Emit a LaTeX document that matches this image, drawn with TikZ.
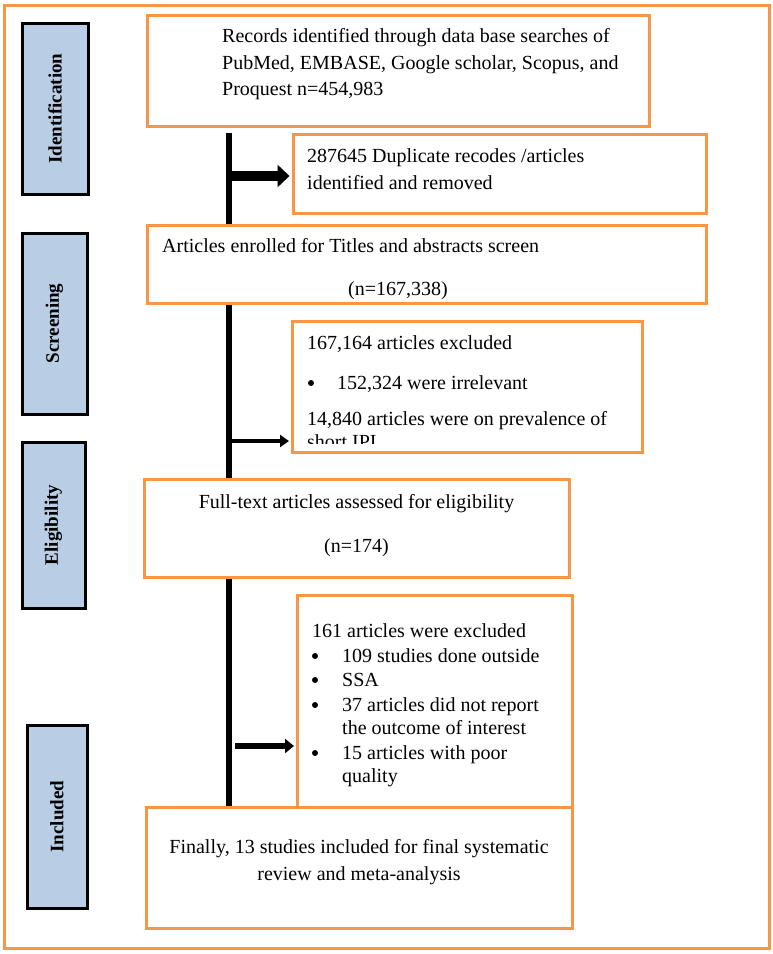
\documentclass[tikz,border=0pt]{standalone}
\usepackage{fontspec}
\setmainfont{Liberation Serif}
\usetikzlibrary{arrows.meta}
\definecolor{orng}{HTML}{F79646}
\definecolor{lblue}{HTML}{B9CDE5}
\begin{document}
\begin{tikzpicture}[x=1pt,y=-1pt,
  frame/.style={draw=orng, line width=3pt, inner sep=0pt},
  box/.style={draw=orng, line width=3pt, fill=white, inner sep=0pt},
  lbl/.style={draw=black, line width=3pt, fill=lblue, inner sep=0pt, rotate=90,
              font=\fontsize{19}{22}\selectfont\bfseries},
  txt/.style={inner sep=0pt, font=\fontsize{20}{24}\selectfont},
  bul/.style={circle, fill=black, inner sep=0pt, minimum size=6pt},
  vline/.style={line width=6pt, black},
  bigarrow/.style={line width=10pt, -{Triangle[length=12pt,width=22pt]}},
  thinarrow/.style={line width=4pt, -{Triangle[length=9pt,width=12pt]}},
  midarrow/.style={line width=6pt, -{Triangle[length=9pt,width=14pt]}}]
\useasboundingbox (0,0) rectangle (773,954);

% outer frame
\node[frame, minimum width=765pt, minimum height=943pt] (outer) at (386.5,476.5) {};

% side labels
\node[lbl, minimum width=171pt, minimum height=66pt] (L1) at (55,108.5) {Identification};
\node[lbl, minimum width=181pt, minimum height=65pt] (L2) at (54.5,323.5) {Screening};
\node[lbl, minimum width=166pt, minimum height=63pt] (L3) at (53.5,525) {Eligibility};
\node[lbl, minimum width=183pt, minimum height=60pt] (L4) at (57,816.5) {Included};

% vertical spine
\coordinate (vtop) at (229,133);
\coordinate (vbot) at (229,807);
\draw[vline] (vtop) -- (vbot);

% boxes
\node[box, minimum width=502pt, minimum height=111pt] (b1) at (398,70.5) {};
\node[box, minimum width=413pt, minimum height=79pt] (b2) at (499.5,173.5) {};
\node[box, minimum width=559pt, minimum height=78pt] (b3) at (426.5,264) {};
\node[box, minimum width=350pt, minimum height=131pt] (b4) at (467,386.5) {};
\node[box, minimum width=425pt, minimum height=98pt] (b5) at (356.5,528) {};
\node[box, minimum width=275pt, minimum height=212pt] (b6) at (434.5,701) {};
\node[box, minimum width=426pt, minimum height=121pt] (b7) at (359,867.5) {};

% arrows
\coordinate (a1) at (229,176);
\coordinate (a2) at (229,441);
\coordinate (a3) at (235,746);
\draw[bigarrow, shorten >=2pt] (a1) -- (a1 -| b2.west);
\draw[thinarrow, shorten >=1.5pt] (a2) -- (a2 -| b4.west);
\draw[midarrow, shorten >=1.5pt] (a3) -- (a3 -| b6.west);

% texts box 1
\node[txt, anchor=base west] (t1a) at (222,42) {Records identified through data base searches of};
\node[txt, anchor=base west] (t1b) at (222,69) {PubMed, EMBASE, Google scholar, Scopus, and};
\node[txt, anchor=base west] (t1c) at (222,95) {Proquest n=454,983};

% box 2
\node[txt, anchor=base west] (t2a) at (307,162) {287645 Duplicate recodes /articles};
\node[txt, anchor=base west] (t2b) at (307,189) {identified and removed};

% box 3
\node[txt, anchor=base west] (t3a) at (162,252) {Articles enrolled for Titles and abstracts screen};
\node[txt, anchor=base] (t3b) at (398,295) {(n=167,338)};

% box 4
\node[txt, anchor=base west] (t4a) at (307,349) {167,164 articles excluded};
\node[bul] (t4bul) at (311,383) {};
\node[txt, anchor=base west] (t4b) at (337,389) {152,324 were irrelevant};
\node[txt, anchor=base west] (t4c) at (307,425) {14,840 articles were on prevalence of};
\begin{scope}
  \clip (292,321) rectangle (642,443);
  \node[txt, anchor=base west] (t4d) at (307,448) {short IPI};
\end{scope}

% box 5
\node[txt, anchor=base] (t5a) at (356.5,508) {Full-text articles assessed for eligibility};
\node[txt, anchor=base] (t5b) at (356.5,552) {(n=174)};

% box 6
\node[txt, anchor=base west] (t6a) at (312,637) {161 articles were excluded};
\node[bul] (t6bul1) at (315,656) {};
\node[txt, anchor=base west] (t6b) at (342,662) {109 studies done outside};
\node[bul] (t6bul2) at (315,680) {};
\node[txt, anchor=base west] (t6c) at (342,686) {SSA};
\node[bul] (t6bul3) at (315,705) {};
\node[txt, anchor=base west] (t6d) at (342,711) {37 articles did not report};
\node[txt, anchor=base west] (t6e) at (342,734) {the outcome of interest};
\node[bul] (t6bul4) at (315,753) {};
\node[txt, anchor=base west] (t6f) at (342,759) {15 articles with poor};
\node[txt, anchor=base west] (t6g) at (342,782) {quality};

% box 7
\node[txt, anchor=base] (t7a) at (359,853) {Finally, 13 studies included for final systematic};
\node[txt, anchor=base] (t7b) at (359,880) {review and meta-analysis};
\end{tikzpicture}
\end{document}
